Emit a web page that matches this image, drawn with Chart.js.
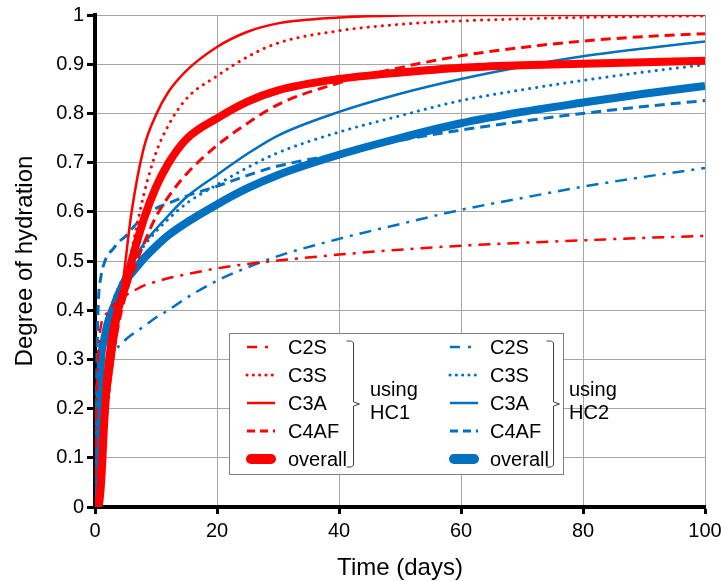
<!DOCTYPE html>
<html>
<head>
<meta charset="utf-8">
<script src="https://cdn.jsdelivr.net/npm/chart.js@4.4.1/dist/chart.umd.min.js"></script>
<style>
  html, body { margin: 0; padding: 0; background: #fff; }
</style>
</head>
<body>
<canvas id="chart" width="721" height="581"></canvas>
<script>
// time axis shared by all curves (days)
const days = [0, 0.25, 0.5, 1, 1.5, 2, 3, 4, 5, 6, 8, 10, 12, 15, 20, 25, 30, 40, 50, 60, 70, 80, 90, 100];

// HC1 (red)
const hc1C2S = [0, 0.22, 0.31, 0.37, 0.385, 0.395, 0.41, 0.42, 0.43, 0.437, 0.45, 0.458, 0.465, 0.473, 0.485, 0.494, 0.501, 0.513, 0.523, 0.531, 0.537, 0.542, 0.547, 0.551];
const hc1C3S = [0, 0, 0, 0.03, 0.12, 0.2, 0.31, 0.39, 0.455, 0.52, 0.635, 0.72, 0.775, 0.83, 0.876, 0.915, 0.943, 0.968, 0.981, 0.988, 0.992, 0.995, 0.997, 0.998];
const hc1C3A = [0, 0, 0, 0.03, 0.12, 0.2, 0.3, 0.39, 0.5, 0.6, 0.73, 0.797, 0.843, 0.887, 0.935, 0.966, 0.983, 0.995, 0.999, 1, 1, 1, 1, 1];
const hc1C4AF = [0, 0, 0, 0.03, 0.12, 0.2, 0.31, 0.38, 0.43, 0.47, 0.535, 0.59, 0.63, 0.677, 0.735, 0.78, 0.818, 0.862, 0.893, 0.917, 0.934, 0.947, 0.956, 0.962];
const hc1Overall = [0, 0, 0, 0.05, 0.17, 0.26, 0.36, 0.41, 0.45, 0.5, 0.585, 0.65, 0.698, 0.748, 0.79, 0.824, 0.847, 0.87, 0.883, 0.893, 0.898, 0.901, 0.904, 0.907];

// HC2 (blue)
const hc2C2S = [0, 0.12, 0.2, 0.26, 0.285, 0.298, 0.313, 0.328, 0.34, 0.35, 0.367, 0.385, 0.4, 0.425, 0.46, 0.487, 0.51, 0.545, 0.575, 0.604, 0.628, 0.651, 0.671, 0.689];
const hc2C3S = [0, 0.1, 0.18, 0.28, 0.33, 0.37, 0.42, 0.45, 0.475, 0.495, 0.53, 0.56, 0.585, 0.617, 0.655, 0.69, 0.72, 0.762, 0.795, 0.826, 0.848, 0.867, 0.884, 0.899];
const hc2C3A = [0, 0.1, 0.18, 0.28, 0.33, 0.37, 0.42, 0.45, 0.475, 0.495, 0.535, 0.565, 0.592, 0.63, 0.675, 0.718, 0.755, 0.803, 0.84, 0.87, 0.895, 0.916, 0.932, 0.946];
const hc2C4AF = [0, 0.25, 0.4, 0.47, 0.495, 0.51, 0.525, 0.54, 0.55, 0.565, 0.59, 0.607, 0.617, 0.632, 0.652, 0.674, 0.693, 0.718, 0.745, 0.766, 0.784, 0.8, 0.814, 0.826];
const hc2Overall = [0, 0.05, 0.14, 0.3, 0.34, 0.37, 0.405, 0.435, 0.46, 0.475, 0.505, 0.53, 0.552, 0.578, 0.615, 0.648, 0.675, 0.716, 0.75, 0.78, 0.803, 0.822, 0.84, 0.856];

const components = ['C2S', 'C3S', 'C3A', 'C4AF', 'overall'];
const groupLabels = ['HC1', 'HC2'];
const xTickLabels = ['0', '20', '40', '60', '80', '100'];
const yTickLabels = ['0', '0.1', '0.2', '0.3', '0.4', '0.5', '0.6', '0.7', '0.8', '0.9', '1'];

const RED = '#FF0000';
const BLUE = '#0070C0';
const FONT = '"Liberation Sans", Arial, sans-serif';

const lineStyles = {
  C2S: { width: 2.5, dash: [12, 7, 3, 7], cap: 'butt' },
  C3S: { width: 3, dash: [0.1, 7], cap: 'round' },
  C3A: { width: 2.5, dash: [], cap: 'butt' },
  C4AF: { width: 3, dash: [10, 6], cap: 'butt' },
  overall: { width: 8, dash: [], cap: 'butt' }
};

const groups = [
  { label: groupLabels[0], color: RED, series: [hc1C2S, hc1C3S, hc1C3A, hc1C4AF, hc1Overall] },
  { label: groupLabels[1], color: BLUE, series: [hc2C2S, hc2C3S, hc2C3A, hc2C4AF, hc2Overall] }
];

const datasets = [];
groups.forEach(g => {
  g.series.forEach((vals, i) => {
    const st = lineStyles[components[i]];
    datasets.push({
      label: components[i] + ' ' + g.label,
      data: days.map((d, k) => ({ x: d, y: vals[k] })),
      borderColor: g.color,
      backgroundColor: g.color,
      borderWidth: st.width,
      borderDash: st.dash,
      borderCapStyle: st.cap,
      showLine: true,
      pointRadius: 0,
      cubicInterpolationMode: 'monotone',
      fill: false
    });
  });
});

// legend with braces, drawn over the plot
const legendPlugin = {
  id: 'bracedLegend',
  afterDatasetsDraw(chart) {
    const ctx = chart.ctx;
    const box = { left: 229, top: 333, right: 563, bottom: 474 };
    ctx.save();
    ctx.fillStyle = '#ffffff';
    ctx.fillRect(box.left, box.top, box.right - box.left, box.bottom - box.top);
    ctx.strokeStyle = '#7f7f7f';
    ctx.lineWidth = 1;
    ctx.strokeRect(box.left + 0.5, box.top + 0.5, box.right - box.left, box.bottom - box.top);

    const rowY = i => 347 + i * 28;
    const cols = [{ x0: 247, x1: 275, tx: 288, brace: 353, ux: 370 },
                  { x0: 450, x1: 478, tx: 490, brace: 553, ux: 569 }];
    ctx.font = '20px ' + FONT;
    ctx.textBaseline = 'middle';
    ctx.textAlign = 'left';
    groups.forEach((g, gi) => {
      const c = cols[gi];
      components.forEach((name, i) => {
        const st = lineStyles[name];
        const y = rowY(i);
        ctx.strokeStyle = g.color;
        ctx.lineWidth = name === 'overall' ? 10 : st.width;
        ctx.lineCap = name === 'overall' ? 'round' : st.cap;
        ctx.setLineDash(name === 'C2S' ? [10, 8, 3, 8] : name === 'C3S' ? [0.1, 6.2] : name === 'C4AF' ? [8, 5] : []);
        ctx.beginPath();
        ctx.moveTo(name === 'overall' ? c.x0 + 4 : c.x0, y);
        ctx.lineTo(name === 'overall' ? c.x1 - 4 : c.x1, y);
        ctx.stroke();
        ctx.setLineDash([]);
        ctx.fillStyle = '#000';
        ctx.fillText(name, c.tx, y + 1);
      });
      // brace
      const bx = c.brace + 0.5;
      const mid = 404;
      ctx.strokeStyle = '#404040';
      ctx.lineWidth = 1;
      ctx.lineCap = 'butt';
      ctx.beginPath();
      ctx.moveTo(bx - 7, 341);
      ctx.lineTo(bx - 2, 341);
      ctx.lineTo(bx, 343);
      ctx.lineTo(bx, mid - 2);
      ctx.lineTo(bx + 6, mid);
      ctx.lineTo(bx, mid + 2);
      ctx.lineTo(bx, 465);
      ctx.lineTo(bx - 2, 467);
      ctx.lineTo(bx - 7, 467);
      ctx.stroke();
      ctx.fillStyle = '#000';
      ctx.fillText('using', c.ux, 390);
      ctx.fillText(g.label, c.ux, 413);
    });
    ctx.restore();
  }
};

new Chart(document.getElementById('chart'), {
  type: 'scatter',
  data: { datasets },
  plugins: [legendPlugin],
  options: {
    responsive: false,
    devicePixelRatio: 1,
    animation: false,
    layout: { padding: { top: 14, right: 0, left: 0, bottom: 0 } },
    plugins: { legend: { display: false }, tooltip: { enabled: false } },
    scales: {
      x: {
        type: 'linear',
        min: 0,
        max: 100,
        afterFit: s => { s.height = 74; s.paddingRight = 16; },
        ticks: {
          stepSize: 20,
          color: '#000',
          font: { family: FONT, size: 20 },
          padding: 5,
          maxRotation: 0,
          callback: (v, i) => xTickLabels[i]
        },
        grid: { color: '#a6a6a6', lineWidth: 1, tickColor: '#000', tickWidth: 3, tickLength: 7 },
        border: { color: '#000', width: 4 },
        title: { display: true, text: 'Time (days)', color: '#000', font: { family: FONT, size: 24 }, padding: { top: 0, bottom: -2 } }
      },
      y: {
        min: 0,
        max: 1,
        afterFit: s => { s.width = 95; },
        ticks: {
          stepSize: 0.1,
          color: '#000',
          font: { family: FONT, size: 20 },
          padding: 3,
          callback: (v, i) => yTickLabels[i]
        },
        grid: { color: '#a6a6a6', lineWidth: 1, tickColor: '#000', tickWidth: 3, tickLength: 8 },
        border: { color: '#000', width: 4 },
        title: { display: true, text: 'Degree of hydration', color: '#000', font: { family: FONT, size: 24 }, padding: { top: 11, bottom: 0 } }
      }
    }
  }
});
</script>
</body>
</html>
